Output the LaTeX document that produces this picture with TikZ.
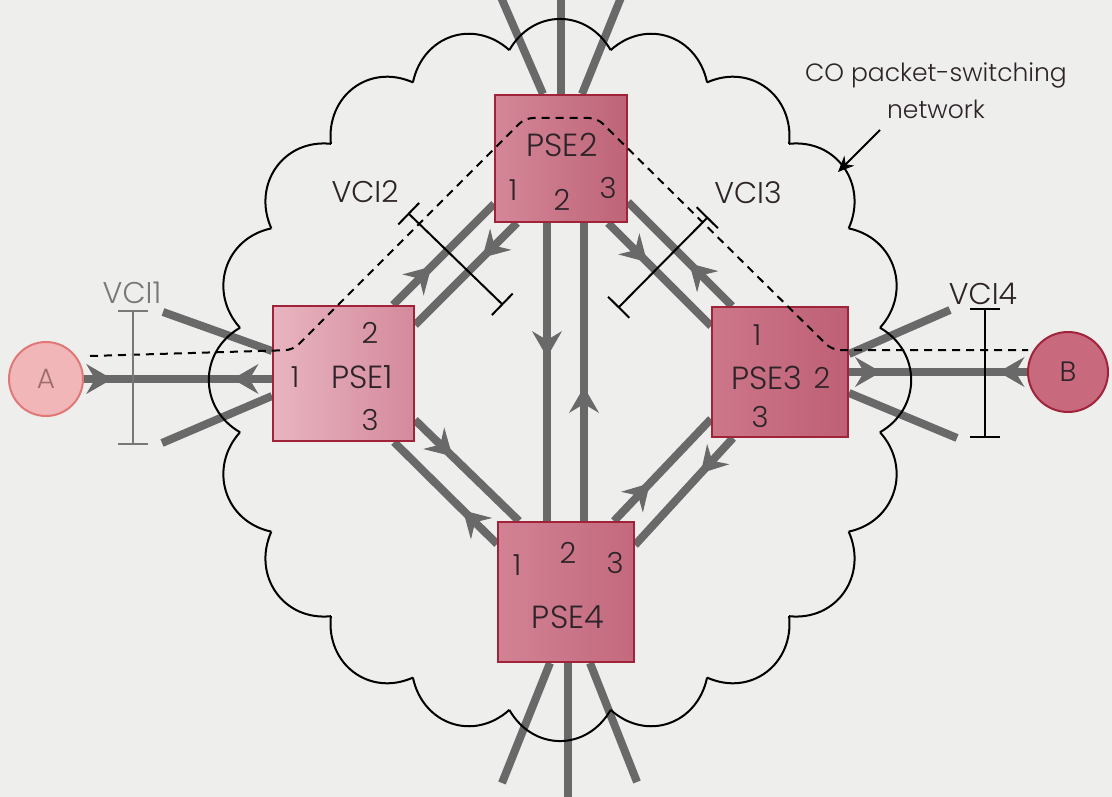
\documentclass[tikz,border=0pt]{standalone}
\usepackage{fontspec}
\IfFontExistsTF{Poppins Light}{\setmainfont{Poppins Light}}{\setmainfont{Poppins}}
\usetikzlibrary{arrows.meta,decorations.markings,calc}
\pgfdeclarelayer{background}
\pgfdeclarelayer{links}
\pgfsetlayers{background,links,main}
\definecolor{bgc}{RGB}{238,238,236}
\definecolor{linkgray}{RGB}{105,105,105}
\definecolor{txt}{RGB}{45,35,40}
\definecolor{bord}{RGB}{160,35,58}
\definecolor{pal}{RGB}{232,180,192}
\definecolor{par}{RGB}{212,138,156}
\definecolor{pbl}{RGB}{212,135,152}
\definecolor{pbr}{RGB}{190,100,120}
\definecolor{pcl}{RGB}{205,118,138}
\definecolor{pcr}{RGB}{190,96,118}
\definecolor{pdl}{RGB}{210,130,148}
\definecolor{pdr}{RGB}{195,105,126}
\definecolor{afill}{RGB}{240,182,184}
\definecolor{adraw}{RGB}{225,120,120}
\definecolor{atext}{RGB}{160,110,110}
\definecolor{bfill}{RGB}{200,105,125}
\definecolor{vcigray}{RGB}{120,120,120}
\begin{document}
\begin{tikzpicture}[x=1pt,y=-1pt,
  link/.style={draw=linkgray, line width=8pt},
  arr/.style={postaction={decorate,decoration={markings,mark=at position #1 with {\arrow[line width=1pt]{Stealth[length=26pt,width=30pt,inset=9pt]}}}}},
  rarr/.style={postaction={decorate,decoration={markings,mark=at position #1 with {\arrowreversed[line width=1pt]{Stealth[length=26pt,width=30pt,inset=9pt]}}}}},
  box/.style={draw=bord, line width=2pt, inner sep=0pt, rectangle},
  lbl/.style={font=\fontsize{30}{30}\selectfont, text=txt, inner sep=0pt},
  plbl/.style={font=\fontsize{32}{32}\selectfont, text=txt, inner sep=0pt},
  num/.style={font=\fontsize{29}{29}\selectfont, text=txt, inner sep=0pt},
  cloudline/.style={draw=black, line width=2pt},
  vci/.style={draw=black, line width=2pt, {Bar[width=30pt]}-{Bar[width=30pt]}},
  dashline/.style={draw=black, line width=2pt, dash pattern=on 8pt off 6pt},
]
\useasboundingbox (0,0) rectangle (1112,797);
\clip (0,0) rectangle (1112,797);
\begin{pgfonlayer}{background}
\fill[bgc] (0,0) rectangle (1112,797);
\end{pgfonlayer}

% switching elements
\node[box, minimum width=141pt, minimum height=135pt, left color=pal, right color=par] (p1) at (343.5,373.5) {};
\node[box, minimum width=132pt, minimum height=127pt, left color=pbl, right color=pbr] (p2) at (561,158.5) {};
\node[box, minimum width=136pt, minimum height=130pt, left color=pcl, right color=pcr] (p3) at (780,372) {};
\node[box, minimum width=136pt, minimum height=140pt, left color=pdl, right color=pdr] (p4) at (566,592) {};

% end systems
\node[circle, draw=adraw, line width=2pt, fill=afill, minimum size=74pt, inner sep=0pt, text=atext, font=\fontsize{28}{28}\selectfont] (A) at (46,379) {A};
\node[circle, draw=bord, line width=2pt, fill=bfill, minimum size=80pt, inner sep=0pt, text=txt, font=\fontsize{28}{28}\selectfont] (B) at (1068,372) {B};

% free ends
\coordinate (e1) at (163,312);
\coordinate (e2) at (162,443);
\coordinate (e3) at (950,310);
\coordinate (e4) at (957,438);
\coordinate (t1) at (500,-5);
\coordinate (t2) at (561,-5);
\coordinate (t3) at (622,-5);
\coordinate (b1) at (502,783);
\coordinate (b2) at (568,805);
\coordinate (b3) at (637,782);

\begin{pgfonlayer}{links}
\draw[link, arr=0.38] ([shift={(-22,0)}]p1.north east) -- ([shift={(0,-19)}]p2.south west);
\draw[link, arr=0.34] ([shift={(23,0)}]p2.south west) -- ([shift={(0,20)}]p1.north east);
\draw[link, arr=0.38] ([shift={(-20,0)}]p2.south east) -- ([shift={(0,20)}]p3.north west);
\draw[link, arr=0.41] ([shift={(21,0)}]p3.north west) -- ([shift={(0,-21)}]p2.south east);
\draw[link, arr=0.36] ([shift={(0,-22)}]p1.south east) -- ([shift={(22,0)}]p4.north west);
\draw[link, arr=0.33] ([shift={(0,23)}]p4.north west) -- ([shift={(-21,0)}]p1.south east);
\draw[link, arr=0.37] ([shift={(-21,0)}]p4.north east) -- ([shift={(0,-19)}]p3.south west);
\draw[link, arr=0.33] ([shift={(22,0)}]p3.south west) -- ([shift={(0,24)}]p4.north east);
\draw[link, arr=0.45] ([shift={(-14,0)}]p2.south) -- ([shift={(-19,0)}]p4.north);
\draw[link, arr=0.45] ([shift={(18,0)}]p4.north) -- ([shift={(23,0)}]p2.south);
\draw[link, arr=0.15, rarr=0.79] (A.east) -- (A.east -| p1.west);
\draw[link, arr=0.18, rarr=0.84] (p3.east) -- (B.west);
\draw[link] (e1) -- ([shift={(0,46)}]p1.north west);
\draw[link] (e2) -- ([shift={(0,-46)}]p1.south west);
\draw[link] ([shift={(0,48)}]p3.north east) -- (e3);
\draw[link] ([shift={(0,-45)}]p3.south east) -- (e4);
\draw[link] ([shift={(-18,0)}]p2.north) -- (t1);
\draw[link] (p2.north) -- (t2);
\draw[link] ([shift={(21,0)}]p2.north) -- (t3);
\draw[link] ([shift={(-16,0)}]p4.south) -- (b1);
\draw[link] ([shift={(2,0)}]p4.south) -- (b2);
\draw[link] ([shift={(24,0)}]p4.south) -- (b3);
% cloud
\foreach \k in {0,...,19}{
  \pgfmathsetmacro\cka{9+18*\k}
  \pgfmathsetmacro\ckb{27+18*\k}
  \pgfmathsetmacro\ckp{48+18*\k}
  \pgfmathsetmacro\ckq{-12+18*\k}
  \draw[cloudline] ($(560,380)+(\cka:324 and 334)$) .. controls ($(560,380)+(\cka:324 and 334)+(\ckp:48)$) and ($(560,380)+(\ckb:324 and 334)+(\ckq:48)$) .. ($(560,380)+(\ckb:324 and 334)$);
}
\end{pgfonlayer}

% labels inside boxes
\node[num] (p1a) at (370,333) {2};
\node[num] (p1b) at (295,377) {1};
\node[plbl] (p1c) at (362,377) {PSE1};
\node[num] (p1d) at (370,420) {3};
\node[plbl] (p2c) at (562,145) {PSE2};
\node[num] (p2a) at (513,190) {1};
\node[num] (p2b) at (562,200) {2};
\node[num] (p2d) at (608,188) {3};
\node[num] (p3a) at (757,335) {1};
\node[plbl] (p3c) at (767,378) {PSE3};
\node[num] (p3b) at (822,378) {2};
\node[num] (p3d) at (760,417) {3};
\node[num] (p4a) at (517,565) {1};
\node[num] (p4b) at (568,553) {2};
\node[num] (p4d) at (615,563) {3};
\node[plbl] (p4c) at (568,617) {PSE4};

% virtual circuit path
\coordinate (d0) at (90,356);
\coordinate (d1) at (293,350);
\coordinate (d2) at (525,118);
\coordinate (d3) at (597,118);
\coordinate (d4) at (832,350);
\coordinate (d5) at (1028,350);
\draw[dashline, rounded corners=8pt] (d0) -- (d1) -- (d2) -- (d3) -- (d4) -- (d5);

% VCI markers
\coordinate (v1a) at (133,310); \coordinate (v1b) at (133,445);
\coordinate (v2a) at (408,213); \coordinate (v2b) at (503,305);
\coordinate (v3a) at (708,217); \coordinate (v3b) at (618,308);
\coordinate (v4a) at (985,308); \coordinate (v4b) at (985,438);
\draw[vci, draw=vcigray] (v1a) -- (v1b);
\draw[vci] (v2a) -- (v2b);
\draw[vci] (v3a) -- (v3b);
\draw[vci] (v4a) -- (v4b);
\node[lbl, text=vcigray] (l1) at (132,293) {VCI1};
\node[lbl] (l2) at (365,192) {VCI2};
\node[lbl] (l3) at (748,193) {VCI3};
\node[lbl] (l4) at (983,294) {VCI4};

% network label
\node[font=\fontsize{25}{37}\selectfont, align=center, text=txt, inner sep=0pt] (co) at (936,91) {CO packet-switching\\network};
\coordinate (coa) at (880,130);
\coordinate (cob) at (838,172);
\draw[line width=2pt, -{Stealth[length=16pt,width=14pt]}] (coa) -- (cob);
\end{tikzpicture}
\end{document}
